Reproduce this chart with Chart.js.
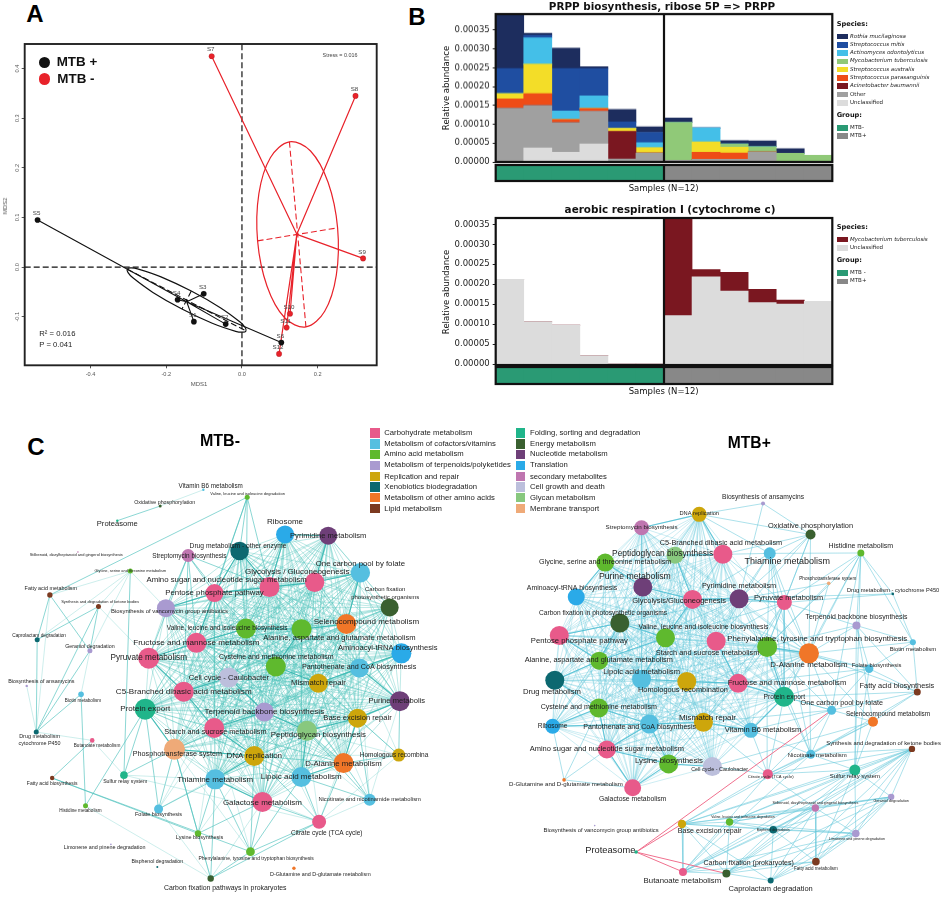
<!DOCTYPE html>
<html>
<head>
<meta charset="utf-8">
<title>MTB figure</title>
<script src="https://cdn.jsdelivr.net/npm/chart.js@4"></script>
<style>
  html, body { margin: 0; padding: 0; background: #fff; }
  #page { position: relative; width: 949px; height: 903px; overflow: hidden; font-family: "Liberation Sans", Arial, sans-serif; }
  #page canvas { position: absolute; }
  .t { position: absolute; white-space: nowrap; line-height: 1; }
</style>
</head>
<body>
<div id="page"></div>
<script>
// ---------- Panel A: NMDS ----------
const plusSamples = ["S1", "S2", "S3", "S4", "S5", "S6"];
const plusX = [-0.127, -0.043, -0.101, -0.17, -0.54, 0.104];
const plusY = [-0.11, -0.115, -0.054, -0.066, 0.095, -0.152];
const plusCentroid = [-0.146, -0.07];
const minusSamples = ["S7", "S8", "S9", "S10", "S11", "S12"];
const minusX = [-0.08, 0.3, 0.32, 0.127, 0.118, 0.098];
const minusY = [0.425, 0.345, 0.0175, -0.094, -0.122, -0.175];
const minusCentroid = [0.145, 0.066];
// outlines run a little past their start so the curve closes smoothly
const plusEllipseX = [-0.0166, 0.0021, 0.0106, 0.0085, -0.0042, -0.0571, -0.1339, -0.2139, -0.2758, -0.2945, -0.303, -0.3009, -0.2882, -0.2353, -0.1585, -0.0785, -0.0166, 0.0021, 0.0106, 0.0085];
const plusEllipseY = [-0.1295, -0.1313, -0.1287, -0.1219, -0.1113, -0.0819, -0.0484, -0.0197, -0.0035, -0.0017, -0.0043, -0.0111, -0.0217, -0.0511, -0.0846, -0.1133, -0.1295, -0.1313, -0.1287, -0.1219];
const minusEllipseX = [0.1128, 0.169, 0.2186, 0.2493, 0.2527, 0.2277, 0.1812, 0.1254, 0.0754, 0.0447, 0.0413, 0.0663, 0.1128, 0.169, 0.2186];
const minusEllipseY = [-0.1022, -0.1206, -0.089, -0.0161, 0.079, 0.1705, 0.234, 0.2524, 0.2208, 0.1479, 0.0528, -0.0387, -0.1022, -0.1206, -0.089];
const plusAxesX = [-0.303, 0.0106, NaN, -0.1339, -0.1585];
const plusAxesY = [-0.0043, -0.1287, NaN, -0.0484, -0.0846];
const minusAxesX = [0.1254, 0.169, NaN, 0.0413, 0.2527];
const minusAxesY = [0.2524, -0.1206, NaN, 0.0528, 0.079];
const mdsXTicks = [-0.4, -0.2, 0, 0.2];
const mdsYTicks = [-0.1, 0, 0.1, 0.2, 0.3, 0.4];

// ---------- Panel B: stacked abundance ----------
const sampleIds = ["S7", "S8", "S9", "S10", "S11", "S12", "S1", "S2", "S3", "S4", "S5", "S6"];
const sampleGroup = ["MTB-", "MTB-", "MTB-", "MTB-", "MTB-", "MTB-", "MTB+", "MTB+", "MTB+", "MTB+", "MTB+", "MTB+"];
const abundanceTicks = [0, 0.00005, 0.0001, 0.00015, 0.0002, 0.00025, 0.0003, 0.00035];
const rothia = [0.000142, 0.0000053, 0.000054, 0.000005, 0.0000328, 0.0000142, 0.0000115, 0, 0.000009, 0.000015, 0.0000124, 0];
const mitis = [0.0000664, 0.000007, 0.0001125, 0.0000727, 0.0000168, 0.0000275, 0, 0, 0, 0, 0, 0];
const odontolyticus = [0, 0.00007, 0.000023, 0.0000336, 0, 0.0000133, 0, 0.0000372, 0, 0, 0, 0];
const tuberculosisPrpp = [0, 0, 0, 0, 0, 0, 0.000101, 0, 0.0000088, 0.0000142, 0.000023, 0.0000177];
const australis = [0.000014, 0.000078, 0, 0, 0.000008, 0.000014, 0, 0.0000275, 0.000015, 0, 0, 0];
const parasanguinis = [0.000025, 0.0000316, 0.000008, 0.000007, 0, 0, 0, 0.0000187, 0.000017, 0, 0, 0];
const baumannii = [0, 0, 0, 0, 0.0000735, 0, 0, 0, 0, 0, 0, 0];
const otherPrpp = [0.0001426, 0.0001125, 0.0000788, 0.000087, 0.000008, 0.000024, 0.0000044, 0.000007, 0.000007, 0.0000266, 0, 0];
const unclassifiedPrpp = [0, 0.0000372, 0.0000257, 0.0000478, 0, 0, 0, 0, 0, 0, 0, 0];
const unclassifiedAero = [0.000212, 0.0001056, 0.0000973, 0.0000208, 0, 0, 0.0001214, 0.0002187, 0.000183, 0.000154, 0.00015, 0.000157];
const tuberculosisAero = [0, 0, 0, 0, 0, 0, 0.00025, 0.000018, 0.0000465, 0.000033, 0.00001, 0];

// ---------- Panel C: co-occurrence networks ----------
const pathwayGroups = ["Carbohydrate metabolism", "Metabolism of cofactors/vitamins", "Amino acid metabolism", "Metabolism of terpenoids/polyketides", "Replication and repair", "Xenobiotics biodegradation", "Metabolism of other amino acids", "Lipid metabolism", "Folding, sorting and degradation", "Energy metabolism", "Nucleotide metabolism", "Translation", "secondary metabolites", "Cell growth and death", "Glycan metabolism", "Membrane transport"];
const groupColors = ["#e85a8a", "#55bfe0", "#5fb92e", "#a99ad0", "#cda60c", "#0c6870", "#f07628", "#7c3a20", "#20b58a", "#3a6030", "#6e3f78", "#2aaae8", "#bf76b0", "#bcbfdc", "#88c87e", "#efaa78"];

const netMinusNames = ["Vitamin B6 metabolism", "Valine, leucine and isoleucine degradation", "Oxidative phosphorylation", "Proteasome", "Ribosome", "Pyrimidine metabolism", "Drug metabolism - other enzyme", "Streptomycin biosynthesis", "Stilbenoid, diarylheptanoid and gingerol biosynthesis", "One carbon pool by folate", "Glycolysis / Gluconeogenesis", "Amino sugar and nucleotide sugar metabolism", "Glycine, serine and threonine metabolism", "Fatty acid metabolism", "Synthesis and degradation of ketone bodies", "Pentose phosphate pathway", "Biosynthesis of vancomycin group antibiotics", "Carbon fixation\nphotosynthetic organisms", "Selenocompound metabolism", "Valine, leucine and isoleucine biosynthesis", "Alanine, aspartate and glutamate metabolism", "Caprolactam degradation", "Geraniol degradation", "Fructose and mannose metabolism", "Pyruvate metabolism", "Aminoacyl-tRNA biosynthesis", "Cysteine and methionine metabolism", "Pantothenate and CoA biosynthesis", "Biosynthesis of ansamycins", "Cell cycle - Caulobacter", "Mismatch repair", "C5-Branched dibasic acid metabolism", "Biotin metabolism", "Protein export", "Purine metabolis", "Terpenoid backbone biosynthesis", "Base excision repair", "Drug metabolism\ncytochrome P450", "Starch and sucrose metabolism", "Peptidoglycan biosynthesis", "Butanoate metabolism", "Phosphotransferase system", "DNA replication", "D-Alanine metabolism", "Homologous recombina", "Fatty acid biosynthesis", "Sulfur relay system", "Thiamine metabolism", "Lipoic acid metabolism", "Galactose metabolism", "Nicotinate and nicotinamide metabolism", "Histidine metabolism", "Folate biosynthesis", "Citrate cycle (TCA cycle)", "Lysine biosynthesis", "Limonene and pinene degradation", "Phenylalanine, tyrosine and tryptophan biosynthesis", "Bisphenol degradation", "D-Glutamine and D-glutamate metabolism", "Carbon fixation pathways in prokaryotes"];
const netMinusGroup = [1, 2, 9, 8, 11, 10, 5, 12, 12, 1, 0, 0, 2, 7, 7, 0, 3, 9, 6, 2, 2, 5, 3, 0, 0, 11, 2, 1, 3, 13, 4, 0, 1, 8, 10, 3, 4, 5, 0, 14, 0, 15, 4, 6, 4, 7, 8, 1, 1, 0, 1, 2, 1, 0, 2, 3, 2, 5, 6, 9];
const netMinusX = [202.3, 248.3, 157, 112, 288, 333.3, 240.3, 186.3, 70.7, 367, 319, 271.7, 125.7, 41.3, 92.3, 214, 163, 397.7, 352.3, 247, 305.3, 28, 83.3, 195, 145, 410, 278.3, 366, 17, 229, 323, 181.7, 74, 141.3, 408.3, 266.3, 364, 27, 213.7, 311, 85.7, 172, 255.7, 349.3, 407.3, 43.7, 119, 214.7, 305, 264.3, 376.7, 78.7, 155.3, 323.7, 196.7, 105.3, 251.7, 154, 297.3, 210];
const netMinusY = [482, 489.7, 499, 514.3, 528.7, 530, 546, 550.7, 547, 568.7, 578.7, 583.7, 567, 592, 604, 590, 605.7, 605, 622.3, 627, 627.7, 638.7, 650.3, 642, 658, 653, 666.7, 668.3, 687, 678.3, 684.3, 693, 695.7, 711.3, 703, 714.3, 720.7, 735.3, 731, 734, 744, 753.3, 760.3, 767.7, 759.3, 783.3, 780.3, 784.7, 782.3, 808.3, 806, 812.3, 815.7, 829, 841.3, 852.7, 860.3, 876.3, 877.7, 888.3];
const netMinusDegree = [1.2, 2.5, 1.5, 1.2, 9, 9, 9.3, 6.5, 0.8, 9.7, 9.7, 10, 2.5, 2.7, 2.5, 9, 9, 9, 10, 10, 10, 2.5, 2.5, 10, 10.5, 10, 10, 9.5, 1.2, 10, 9.5, 10, 2.8, 10.5, 10, 9.5, 9.5, 2.5, 10, 10, 2.3, 10.5, 10, 10, 6.5, 2.2, 3.8, 10, 10, 10, 6, 2.5, 4.5, 7, 3.2, 0.8, 4.4, 1, 1.7, 3.2];
const netMinusLabelX = [210, 248.7, 161.7, 112, 288, 333.3, 238.7, 187.7, 69, 367, 300.7, 226.7, 125.7, 42.3, 94, 214, 166.7, 393, 373.3, 227.3, 345, 30, 83.3, 195, 145, 395.7, 278.8, 365.7, 32.3, 229, 323, 181.7, 76, 141.3, 405.3, 266.3, 364, 30.5, 215, 323, 90.7, 175, 255.7, 349.3, 402.3, 43.7, 120.3, 214.7, 305, 264.3, 376.7, 73.3, 155.3, 331.7, 198.3, 98.7, 257.7, 154, 325, 225.3];
const netMinusLabelY = [478.3, 486.3, 495, 517.3, 515.3, 530.3, 541.3, 551.7, 550, 559, 567.7, 576.3, 567, 585, 599, 589.7, 609, 590.3, 620, 626.7, 636.7, 634, 645.7, 642, 657.3, 647.3, 656.7, 667.3, 682.3, 678.3, 683.7, 693, 702, 710.7, 703, 714, 720, 743.5, 734.7, 737.7, 749.3, 758.7, 760, 768, 759.3, 789, 787.3, 784.7, 782, 808.7, 806, 817.7, 821.3, 841, 845.3, 856.3, 867.3, 870.7, 884.7, 898];
const netMinusLabelSize = [6.3, 4, 5.3, 7.6, 8, 7.6, 6.7, 6.4, 4, 7.8, 8, 7.8, 3.9, 5.4, 4, 7.8, 5.9, 6, 8, 6.4, 7.6, 4.8, 5.3, 8.1, 8.2, 7.6, 7, 7.2, 5.4, 7.6, 7.7, 8.1, 4.6, 8, 7.6, 8.1, 7.6, 5.4, 7.3, 7.9, 4.7, 7.2, 8, 7.8, 6.5, 5, 5.2, 8, 8, 8, 5.8, 4.6, 5.5, 6.5, 5.5, 5.4, 5, 5.2, 5.4, 6.9];
// node indexes: the middle of the graph is read as a near complete mesh
const netMinusCore = [4, 5, 6, 9, 10, 11, 15, 16, 17, 18, 19, 20, 23, 24, 25, 26, 27, 29, 30, 31, 33, 34, 35, 36, 38, 39, 41, 42, 43, 47, 48, 49];
const netMinusStrong = [[16, 15], [15, 11], [11, 10], [10, 9], [15, 23], [23, 24], [31, 24], [33, 41], [41, 42], [42, 47], [47, 49], [48, 43], [43, 36], [36, 39], [30, 27], [27, 34], [20, 26], [19, 20], [18, 9], [25, 27], [34, 36], [39, 48], [35, 39], [31, 38], [38, 42], [26, 30], [20, 18], [5, 10], [4, 11], [6, 15], [6, 11], [4, 5], [19, 23], [29, 35], [29, 31], [35, 38]];
const netMinusEdges = [[3, 2], [1, 13], [45, 54], [45, 56], [13, 21], [14, 37], [59, 56], [53, 56], [1, 6], [1, 15], [1, 19], [1, 11], [1, 23], [7, 15], [7, 16], [7, 23], [7, 24], [7, 19], [7, 31], [7, 11], [12, 46], [13, 22], [14, 21], [14, 22], [21, 37], [22, 37], [32, 37], [32, 51], [40, 45], [33, 51], [46, 33], [46, 41], [52, 33], [52, 41], [52, 47], [54, 41], [54, 47], [54, 49], [56, 47], [56, 49], [56, 42], [56, 48], [59, 53], [59, 41], [59, 47], [53, 49], [53, 48], [53, 43], [53, 42], [50, 43], [50, 48], [50, 36], [50, 39], [44, 34], [44, 36], [44, 43]];
const netMinusFaint = [[2, 0], [12, 22], [12, 14], [12, 21], [13, 37], [22, 32], [46, 47], [46, 53], [52, 38], [52, 42], [52, 29], [54, 38], [54, 42], [56, 38], [56, 41], [59, 54], [59, 52], [59, 49], [53, 47], [53, 36], [53, 39], [53, 44], [53, 50], [53, 35], [50, 27], [50, 34], [50, 30], [50, 35], [44, 27], [44, 48], [44, 39], [44, 42], [44, 30], [51, 59], [37, 40], [28, 37], [40, 46], [12, 13], [24, 14], [16, 12]];

const netPlusNames = ["Biosynthesis of ansamycins", "DNA replication", "Streptomycin biosynthesis", "Oxidative phosphorylation", "C5-Branched dibasic acid metabolism", "Thiamine metabolism", "Histidine metabolism", "Peptidoglycan biosynthesis", "Glycine, serine and threonine metabolism", "Purine metabolism", "Phosphotransferase system", "Aminoacyl-tRNA biosynthesis", "Drug metabolism - cytochrome P450", "Pyrimidine metabolism", "Glycolysis/Gluconeogenesis", "Pyruvate metabolism", "Carbon fixation in photosynthetic organisms", "Terpenoid backbone biosynthesis", "Pentose phosphate pathway", "Valine, leucine and isoleucine biosynthesis", "Starch and sucrose metabolism", "Phenylalanine, tyrosine and tryptophan biosynthesis", "Biotin metabolism", "D-Alanine metabolism", "Alanine, aspartate and glutamate metabolism", "Folate biosynthesis", "Lipoic acid metabolism", "Homologous recombination", "Fructose and mannose metabolism", "Fatty acid biosynthesis", "Drug metabolism", "Protein export", "Cysteine and methionine metabolism", "One carbon pool by folate", "Selenocompound metabolism", "Mismatch repair", "Ribosome", "Pantothenate and CoA biosynthesis", "Vitamin B6 metabolism", "Amino sugar and nucleotide sugar metabolism", "Synthesis and degradation of ketone bodies", "Nicotinate metabolism", "Lysine biosynthesis", "Cell cycle - Caulobacter", "Citrate cycle (TCA cycle)", "Sulfur relay system", "D-Glutamine and D-glutamate metabolism", "Galactose metabolism", "Geraniol degradation", "Stilbenoid, diarylheptanoid and gingerol biosynthesis", "Valine, leucine and isoleucine degradation", "Base excision repair", "Bisphenol degradation", "Limonene and pinene degradation", "Biosynthesis of vancomycin group antibiotics", "Proteasome", "Carbon fixation (prokaryotes)", "Fatty acid metabolism", "Butanoate metabolism", "Caprolactam degradation"];
const netPlusGroup = [3, 4, 12, 9, 0, 1, 2, 14, 2, 10, 15, 11, 5, 10, 0, 0, 9, 3, 0, 2, 0, 2, 1, 6, 2, 1, 1, 4, 0, 7, 5, 8, 2, 1, 6, 4, 11, 1, 1, 0, 7, 1, 2, 13, 0, 8, 6, 0, 3, 12, 2, 4, 5, 3, 3, 8, 9, 7, 0, 5];
const netPlusX = [765, 698.3, 638, 814.7, 723, 772, 867.3, 673, 600, 639.3, 833.7, 569.7, 900.7, 740, 691.3, 787.3, 615.3, 862.7, 552, 663, 716, 769.3, 921.7, 813, 593.7, 876, 638, 685.3, 739, 926.3, 547.3, 787, 593.3, 836.7, 880, 702.7, 545, 646.3, 752.3, 601.7, 920.7, 815, 666.3, 712, 770, 861, 557, 628.7, 899, 819.7, 730, 680.3, 775.7, 862, 589, 632.3, 726.7, 820.3, 681.3, 773];
const netPlusY = [496.7, 508, 522, 529, 549.7, 548.7, 548.3, 550.7, 558.3, 583.7, 580, 594.3, 591, 596, 596.7, 600, 621.3, 624, 634.3, 636.7, 640.3, 646.3, 641.3, 653, 660.7, 669, 680, 682.3, 684.3, 693.3, 681, 698.3, 710, 712.3, 724.3, 725, 729, 726.7, 733.3, 753.3, 752.7, 758.3, 768.3, 771, 779, 774.7, 785, 793.3, 802.7, 814.3, 829, 831, 837, 841, 832.7, 860.3, 882.7, 870.3, 881, 890];
const netPlusDegree = [2, 7.5, 7.5, 5, 9.5, 6, 3.5, 8.5, 9, 9.5, 1.8, 8.5, 1.3, 9.5, 9.5, 7.5, 9.5, 4, 9.5, 9.5, 9.5, 10, 3, 10, 9, 4.2, 9.5, 9.5, 9.5, 3.5, 9.5, 10, 9.5, 4.5, 5, 9.5, 7.5, 9.5, 7.5, 9, 3.2, 4.5, 9.5, 9.5, 5, 5.5, 1.8, 8.5, 3.2, 3.7, 3.7, 4.2, 3.8, 3.8, 0.8, 1.8, 4, 3.8, 4, 3];
const netPlusLabelX = [765, 698.3, 638, 814.7, 721, 790.3, 867.3, 660, 600, 631, 832.7, 565.3, 901, 740, 677.3, 791.7, 597.7, 862.7, 573, 702.7, 707, 821.7, 921.7, 813, 593.3, 883.7, 638, 681.3, 790, 905, 544.3, 787.3, 593.3, 847.3, 895.7, 707, 545, 636, 765, 601.7, 891, 821.7, 666.7, 719.7, 773, 861, 559, 628.7, 899, 819.7, 744, 709.3, 775.7, 863.3, 595.7, 605.3, 750, 820.3, 680.7, 773];
const netPlusLabelY = [490.3, 507.3, 521.7, 519.7, 537.7, 557.3, 541, 548.7, 557.7, 573, 575.3, 585, 587.7, 583, 598.7, 595, 610.7, 614.7, 640, 625.7, 652.7, 638, 649.3, 665.3, 660.3, 665.7, 672.3, 691, 683.7, 687, 692.7, 698.7, 709.3, 705, 716.3, 720.3, 729, 729.7, 733.3, 752.7, 746.7, 759, 765.3, 774, 781.7, 781.7, 789.7, 805.3, 807, 809, 823.7, 838.7, 837, 846.7, 837.3, 859, 872, 877.7, 890, 898.3];
const netPlusLabelSize = [6.7, 5.7, 6.2, 7.4, 7.3, 9, 7, 8.4, 7.2, 8.7, 4.6, 6.9, 5.7, 7.4, 7.5, 7.4, 6.6, 6.9, 7.7, 6.9, 7.4, 7.8, 5.9, 7.9, 7.4, 5.8, 7.6, 7.4, 7.6, 7.4, 7.7, 6.7, 7.1, 7.2, 6.4, 8, 6.6, 7.1, 7.5, 7.5, 5.9, 6, 7.9, 5.4, 4.2, 5.9, 6.1, 6.8, 3.8, 3.7, 3.4, 7.1, 3.3, 3.7, 5.8, 9.3, 7, 4.5, 7.8, 7.5];
const netPlusCore = [1, 2, 4, 7, 8, 9, 11, 13, 14, 16, 18, 19, 20, 21, 23, 24, 26, 27, 28, 30, 31, 32, 35, 36, 37, 38, 39, 42, 43, 47];
const netPlusStrong = [[11, 8], [8, 9], [9, 14], [14, 13], [13, 15], [36, 32], [32, 37], [37, 35], [35, 38], [39, 32], [39, 47], [39, 37], [30, 24], [24, 16], [24, 19], [19, 14], [20, 28], [21, 23], [21, 31], [28, 31], [26, 27], [27, 28], [36, 37], [43, 42], [42, 47], [42, 39], [37, 42], [38, 31], [7, 4], [7, 14], [2, 1], [1, 4], [18, 16], [18, 24], [16, 19], [30, 32], [19, 26]];
const netPlusEdges = [[1, 3], [0, 1], [0, 13], [0, 3], [3, 5], [3, 15], [3, 23], [3, 21], [3, 4], [3, 20], [3, 13], [5, 6], [5, 4], [5, 15], [5, 13], [5, 21], [5, 23], [5, 14], [5, 20], [5, 1], [5, 31], [5, 41], [6, 21], [6, 23], [6, 15], [6, 17], [6, 12], [6, 22], [6, 33], [6, 31], [6, 45], [10, 13], [10, 23], [10, 21], [12, 15], [12, 14], [12, 22], [17, 15], [17, 23], [17, 21], [17, 25], [17, 22], [17, 29], [17, 34], [17, 45], [22, 29], [22, 23], [22, 25], [25, 23], [25, 31], [25, 21], [25, 29], [25, 33], [25, 28], [25, 45], [29, 31], [29, 33], [29, 34], [29, 23], [29, 41], [33, 31], [33, 41], [33, 44], [33, 35], [33, 21], [33, 23], [33, 38], [34, 44], [34, 31], [34, 41], [34, 45], [34, 43], [34, 23], [41, 44], [41, 31], [41, 21], [41, 23], [41, 38], [41, 45], [15, 13], [15, 14], [15, 21], [15, 23], [15, 20], [15, 28], [15, 31], [15, 19], [15, 4], [15, 35], [44, 38], [44, 31], [44, 43], [44, 21], [44, 35], [45, 51], [45, 50], [45, 40], [45, 56], [45, 49], [45, 48], [45, 53], [45, 58], [45, 44], [40, 50], [40, 51], [40, 49], [40, 53], [40, 58], [40, 57], [40, 56], [40, 59], [40, 48], [40, 44], [40, 41], [40, 52], [48, 49], [48, 52], [48, 53], [48, 57], [48, 56], [48, 59], [48, 50], [48, 51], [49, 52], [49, 50], [49, 51], [49, 53], [49, 57], [49, 56], [49, 58], [49, 59], [49, 44], [50, 51], [50, 52], [50, 53], [50, 56], [50, 58], [51, 52], [51, 58], [51, 56], [51, 53], [51, 59], [51, 44], [51, 41], [52, 53], [52, 56], [52, 58], [52, 57], [52, 59], [53, 57], [53, 56], [53, 58], [53, 59], [57, 56], [57, 59], [57, 58], [57, 45], [58, 56], [58, 41], [58, 44], [59, 56], [46, 36], [46, 32], [46, 39], [46, 47]];
const netPlusFaint = [];
const netPlusRed = [[55, 33], [55, 51], [55, 58], [55, 56]];

// ---------- helpers ----------
const page = document.getElementById("page");
const gap = { x: NaN, y: NaN };
const sansDejavu = '"DejaVu Sans", sans-serif';
const sansArial = '"Liberation Sans", Arial, sans-serif';

function text(str, x, y, opts) {
  opts = opts || {};
  const el = document.createElement("div");
  el.className = "t";
  el.textContent = str;
  el.style.left = x + "px";
  el.style.top = y + "px";
  el.style.fontSize = (opts.size || 8) + "px";
  el.style.fontFamily = opts.font || sansArial;
  el.style.color = opts.color || "#111";
  if (opts.weight) el.style.fontWeight = opts.weight;
  if (opts.italic) el.style.fontStyle = "italic";
  const ax = opts.left ? "0" : "-50%";
  el.style.transform = "translate(" + ax + ",-50%)" + (opts.rotate ? " rotate(-90deg)" : "");
  page.appendChild(el);
}

function swatch(x, y, w, h, color, round) {
  const el = document.createElement("div");
  el.style.cssText = "position:absolute;left:" + (x - w / 2) + "px;top:" + (y - h / 2) + "px;width:" + w + "px;height:" + h + "px;background:" + color + ";" + (round ? "border-radius:50%;" : "");
  page.appendChild(el);
}

function canvasAt(l, t, w, h) {
  const c = document.createElement("canvas");
  c.width = w;
  c.height = h;
  c.style.left = l + "px";
  c.style.top = t + "px";
  c.style.width = w + "px";
  c.style.height = h + "px";
  page.appendChild(c);
  return c.getContext("2d");
}

function points(xs, ys) {
  return xs.map((x, i) => (isNaN(x) ? gap : { x: x, y: ys[i] }));
}

function spokes(xs, ys, c) {
  const out = [];
  xs.forEach((x, i) => out.push({ x: c[0], y: c[1] }, { x: x, y: ys[i] }, gap));
  return out;
}

// axis with a fixed thickness (room), so the plot box stays where the padding puts it
function fixedScale(min, max, ticks, fmt, room, tickFont, tickColor) {
  return {
    type: "linear",
    min: min,
    max: max,
    afterFit: (s) => {
      if (s.isHorizontal()) s.height = room;
      else s.width = room;
    },
    afterBuildTicks: (s) => {
      s.ticks = ticks.map((v) => ({ value: v }));
    },
    grid: { drawOnChartArea: false, drawTicks: true, tickLength: 3, tickColor: tickColor },
    border: { display: false },
    ticks: { autoSkip: false, padding: 3, color: tickColor, font: tickFont, callback: fmt, maxRotation: 0 },
  };
}

const boxPlugin = {
  id: "box",
  afterDraw(chart, args, o) {
    const a = chart.chartArea;
    const c = chart.ctx;
    c.save();
    c.strokeStyle = o.color || "#111";
    c.lineWidth = o.width || 2;
    c.strokeRect(a.left, a.top, a.right - a.left, a.bottom - a.top);
    if (o.divider) {
      const px = chart.scales.x.getPixelForValue(5.5);
      c.beginPath();
      c.moveTo(px, a.top);
      c.lineTo(px, a.bottom);
      c.stroke();
    }
    c.restore();
  },
};

// ---------- panel A chart ----------
const mdsBox = { l: 24.7, t: 44, r: 376.7, b: 365.3 };
const mdsRange = { x0: -0.574, x1: 0.356, y0: -0.198, y1: 0.4496 };

const sampleLabels = {
  id: "sampleLabels",
  afterDatasetsDraw(chart) {
    const c = chart.ctx;
    const sx = chart.scales.x;
    const sy = chart.scales.y;
    c.save();
    c.fillStyle = "#444";
    c.font = "6.2px " + sansArial;
    c.textAlign = "center";
    c.textBaseline = "middle";
    plusSamples.forEach((s, i) => c.fillText(s, sx.getPixelForValue(plusX[i]) - 1, sy.getPixelForValue(plusY[i]) - 6.5));
    minusSamples.forEach((s, i) => c.fillText(s, sx.getPixelForValue(minusX[i]) - 1, sy.getPixelForValue(minusY[i]) - 6.5));
    // the y tick labels stand on their side
    c.fillStyle = "#555";
    c.font = "5.6px " + sansArial;
    mdsYTicks.forEach((v) => {
      c.save();
      c.translate(sx.left - 7.5, sy.getPixelForValue(v));
      c.rotate(-Math.PI / 2);
      c.fillText(v.toFixed(1), 0, 0);
      c.restore();
    });
    c.restore();
  },
};

function lineSet(data, color, width, extra) {
  return Object.assign({ data: data, showLine: true, borderColor: color, borderWidth: width, pointRadius: 0, fill: false }, extra || {});
}

// closed outline: first and last stretch only set the curve's tangents, they stay unpainted
function ellipseSet(xs, ys, color) {
  const last = xs.length - 1;
  return lineSet(points(xs, ys), color, 1.2, {
    tension: 0.35,
    order: 3,
    segment: {
      borderColor: (ctx) => (ctx.p0DataIndex === 0 || ctx.p1DataIndex === last ? "rgba(0,0,0,0)" : undefined),
    },
  });
}

const xAxisA = fixedScale(mdsRange.x0, mdsRange.x1, mdsXTicks, (v) => v.toFixed(1), 12, { size: 5.6, family: sansArial }, "#555");
const yAxisA = fixedScale(mdsRange.y0, mdsRange.y1, mdsYTicks, (v) => v.toFixed(1), 0, { size: 5.6, family: sansArial }, "#555");
yAxisA.ticks.display = false;

new Chart(canvasAt(0, 30, 400, 360), {
  type: "scatter",
  data: {
    datasets: [
      { data: points(plusX, plusY), backgroundColor: "#111", pointRadius: 2.8, order: 0 },
      { data: points(minusX, minusY), backgroundColor: "#e8222a", pointRadius: 2.8, order: 0 },
      lineSet(spokes(minusX, minusY, minusCentroid), "#e8222a", 1.2, { order: 1 }),
      lineSet(spokes(plusX, plusY, plusCentroid), "#111", 1.1, { order: 2 }),
      ellipseSet(minusEllipseX, minusEllipseY, "#e8222a"),
      ellipseSet(plusEllipseX, plusEllipseY, "#111"),
      lineSet(points(minusAxesX, minusAxesY), "#e8222a", 1.1, { borderDash: [6, 3], order: 3 }),
      lineSet(points(plusAxesX, plusAxesY), "#111", 1.1, { borderDash: [6, 3], order: 3 }),
      lineSet([{ x: 0, y: mdsRange.y0 }, { x: 0, y: mdsRange.y1 }], "#111", 1.2, { borderDash: [6, 3], order: 4 }),
      lineSet([{ x: mdsRange.x0, y: 0 }, { x: mdsRange.x1, y: 0 }], "#111", 1.2, { borderDash: [6, 3], order: 4 }),
    ],
  },
  options: {
    responsive: false,
    animation: false,
    events: [],
    layout: { padding: { left: mdsBox.l, top: mdsBox.t - 30, right: 400 - mdsBox.r, bottom: 390 - mdsBox.b - 12 } },
    scales: { x: xAxisA, y: yAxisA },
    plugins: { legend: { display: false }, tooltip: { enabled: false }, box: { color: "#222", width: 1.9 } },
  },
  plugins: [boxPlugin, sampleLabels],
});

text("A", 35, 14, { size: 24, weight: "bold", color: "#000" });
text("B", 417, 17, { size: 24, weight: "bold", color: "#000" });
text("C", 36, 447, { size: 24, weight: "bold", color: "#000" });
swatch(44.7, 62.3, 11.4, 11.4, "#111", true);
swatch(44.7, 79, 11.4, 11.4, "#e8222a", true);
text("MTB +", 56.7, 62, { left: true, size: 13.4, weight: "bold" });
text("MTB -", 57.3, 79, { left: true, size: 13.4, weight: "bold" });
text("Stress = 0.016", 340, 56.3, { size: 5.4, color: "#444" });
text("R² = 0.016", 39.3, 334, { left: true, size: 7.7, color: "#222" });
text("P = 0.041", 39.3, 344.7, { left: true, size: 7.7, color: "#222" });
text("MDS1", 199, 384, { size: 6, color: "#555" });
text("MDS2", 5.3, 206, { size: 6, color: "#555", rotate: true });

// ---------- panel B charts ----------
const barLeft = 495.7;
const barRight = 832.3;
const tickRoom = 45;
const species = [
  ["Unclassified", "#dcdcdc"],
  ["Other", "#a0a0a0"],
  ["Acinetobacter baumannii", "#7a1720"],
  ["Streptococcus parasanguinis", "#ee4c17"],
  ["Streptococcus australis", "#f3dd28"],
  ["Mycobacterium tuberculosis", "#90c978"],
  ["Actinomyces odontolyticus", "#44bfe8"],
  ["Streptococcus mitis", "#1f4ea1"],
  ["Rothia mucilaginosa", "#1d2d5e"],
];
const groupFill = { "MTB-": "#2a9a74", "MTB+": "#888888" };

function stackedChart(top, bottom, yMin, yMax, sets) {
  const canvasTop = top - 10;
  const canvasH = bottom - canvasTop + 10;
  const yAxis = fixedScale(yMin, yMax, abundanceTicks, (v) => v.toFixed(5), tickRoom, { size: 8.5, family: sansDejavu }, "#222");
  yAxis.stacked = true;
  new Chart(canvasAt(440, canvasTop, 400, canvasH), {
    type: "bar",
    data: {
      labels: sampleIds,
      datasets: sets.map((s) => ({ label: s[0], data: s[2], backgroundColor: s[1], barPercentage: 1, categoryPercentage: 1 })),
    },
    options: {
      responsive: false,
      animation: false,
      events: [],
      layout: { padding: { left: barLeft - 440 - tickRoom, top: 10, right: 840 - barRight, bottom: 10 } },
      scales: {
        x: { stacked: true, afterFit: (s) => { s.height = 0; }, grid: { display: false }, border: { display: false }, ticks: { display: false } },
        y: yAxis,
      },
      plugins: { legend: { display: false }, tooltip: { enabled: false }, box: { divider: true, width: 2.2 } },
    },
    plugins: [boxPlugin],
  });
}

function groupStrip(top, bottom) {
  new Chart(canvasAt(490, top - 4, 350, bottom - top + 8), {
    type: "bar",
    data: {
      labels: sampleIds,
      datasets: [{ data: sampleGroup.map(() => 1), backgroundColor: sampleGroup.map((g) => groupFill[g]), barPercentage: 1, categoryPercentage: 1 }],
    },
    options: {
      responsive: false,
      animation: false,
      events: [],
      layout: { padding: { left: barLeft - 490, top: 4, right: 840 - barRight, bottom: 4 } },
      scales: {
        x: { afterFit: (s) => { s.height = 0; }, grid: { display: false }, border: { display: false }, ticks: { display: false } },
        y: { min: 0, max: 1, afterFit: (s) => { s.width = 0; }, grid: { display: false }, border: { display: false }, ticks: { display: false } },
      },
      plugins: { legend: { display: false }, tooltip: { enabled: false }, box: { divider: true, width: 2.2 } },
    },
    plugins: [boxPlugin],
  });
}

stackedChart(14, 161.7, 0, 0.0003925, [
  [species[0][0], species[0][1], unclassifiedPrpp],
  [species[1][0], species[1][1], otherPrpp],
  [species[2][0], species[2][1], baumannii],
  [species[3][0], species[3][1], parasanguinis],
  [species[4][0], species[4][1], australis],
  [species[5][0], species[5][1], tuberculosisPrpp],
  [species[6][0], species[6][1], odontolyticus],
  [species[7][0], species[7][1], mitis],
  [species[8][0], species[8][1], rothia],
]);
groupStrip(164.7, 181);
stackedChart(217.7, 365.3, -0.0000025, 0.000366, [
  ["Unclassified", "#dcdcdc", unclassifiedAero],
  ["Mycobacterium tuberculosis", "#7a1720", tuberculosisAero],
]);
groupStrip(367.3, 384.3);

text("PRPP biosynthesis, ribose 5P => PRPP", 662, 5.5, { size: 10.4, weight: "bold", font: sansDejavu });
text("aerobic respiration I (cytochrome c)", 670, 208.7, { size: 10.4, weight: "bold", font: sansDejavu });
text("Relative abundance", 445.7, 88, { size: 8.5, font: sansDejavu, rotate: true });
text("Relative abundance", 445.7, 291.7, { size: 8.5, font: sansDejavu, rotate: true });
text("Samples (N=12)", 663.7, 187.7, { size: 8.5, font: sansDejavu });
text("Samples (N=12)", 663.7, 390.7, { size: 8.5, font: sansDejavu });

const legendSwatchX = 842.2;
const legendTextX = 850;
function legendRow(label, color, y, italic) {
  swatch(legendSwatchX, y, 11, 5.5, color);
  text(label, legendTextX, y, { left: true, size: 5.5, font: sansDejavu, italic: italic, color: "#222" });
}
text("Species:", 836.7, 24.3, { left: true, size: 6.6, weight: "bold", font: sansDejavu });
[8, 7, 6, 5, 4, 3, 2].forEach((k, i) => legendRow(species[k][0], species[k][1], 36.7 + i * 8.25, true));
legendRow("Other", species[1][1], 94.7);
legendRow("Unclassified", species[0][1], 103);
text("Group:", 836.7, 115.3, { left: true, size: 6.6, weight: "bold", font: sansDejavu });
legendRow("MTB-", groupFill["MTB-"], 128);
legendRow("MTB+", groupFill["MTB+"], 136);

text("Species:", 836.7, 227.3, { left: true, size: 6.6, weight: "bold", font: sansDejavu });
legendRow("Mycobacterium tuberculosis", "#7a1720", 239.7, true);
legendRow("Unclassified", "#dcdcdc", 248);
text("Group:", 836.7, 260.3, { left: true, size: 6.6, weight: "bold", font: sansDejavu });
legendRow("MTB -", groupFill["MTB-"], 273);
legendRow("MTB+", groupFill["MTB+"], 281.3);

// ---------- panel C charts ----------
function edgePath(pairs, xs, ys) {
  const out = [];
  pairs.forEach((p) => out.push({ x: xs[p[0]], y: ys[p[0]] }, { x: xs[p[1]], y: ys[p[1]] }, gap));
  return out;
}

function meshPairs(core) {
  const pairs = [];
  core.forEach((a, i) => core.slice(i + 1).forEach((b) => pairs.push([a, b])));
  return pairs;
}

function networkChart(left, width, net) {
  const nodeLabels = {
    id: "nodeLabels",
    afterDatasetsDraw(chart) {
      const c = chart.ctx;
      c.save();
      c.fillStyle = "#1c1c1c";
      c.textAlign = "center";
      c.textBaseline = "middle";
      net.names.forEach((name, i) => {
        const px = chart.scales.x.getPixelForValue(net.labelX[i]);
        const py = chart.scales.y.getPixelForValue(net.labelY[i]);
        c.font = net.labelSize[i] + "px " + sansArial;
        const lines = name.split("\n");
        lines.forEach((line, k) => c.fillText(line, px, py + (k - (lines.length - 1) / 2) * net.labelSize[i] * 1.25));
      });
      c.restore();
    },
  };
  const sets = [
    {
      data: points(net.x, net.y),
      pointRadius: net.degree,
      pointBackgroundColor: net.group.map((g) => groupColors[g]),
      pointBorderWidth: 0,
      order: 0,
    },
    lineSet(edgePath(net.faint, net.x, net.y), net.faintColor, 0.8, { order: 5 }),
    lineSet(edgePath(meshPairs(net.core), net.x, net.y), net.meshColor, 0.6, { order: 4 }),
    lineSet(edgePath(net.edges, net.x, net.y), net.edgeColor, 0.9, { order: 3 }),
    lineSet(edgePath(net.strong, net.x, net.y), net.strongColor, 1.1, { order: 2 }),
  ];
  if (net.red) sets.push(lineSet(edgePath(net.red, net.x, net.y), "#f0708e", 1, { order: 1 }));
  new Chart(canvasAt(left, 420, width, 483), {
    type: "scatter",
    data: { datasets: sets },
    options: {
      responsive: false,
      animation: false,
      events: [],
      layout: { padding: 0 },
      scales: {
        x: { type: "linear", display: false, min: left, max: left + width },
        y: { type: "linear", display: false, min: 420, max: 903, reverse: true },
      },
      plugins: { legend: { display: false }, tooltip: { enabled: false } },
    },
    plugins: [nodeLabels],
  });
}

networkChart(0, 450, {
  names: netMinusNames, group: netMinusGroup, x: netMinusX, y: netMinusY, degree: netMinusDegree,
  labelX: netMinusLabelX, labelY: netMinusLabelY, labelSize: netMinusLabelSize,
  core: netMinusCore, edges: netMinusEdges, strong: netMinusStrong, faint: netMinusFaint,
  meshColor: "rgba(72,192,186,0.6)", edgeColor: "rgba(72,192,186,0.7)", strongColor: "rgba(52,182,176,0.85)", faintColor: "rgba(72,192,186,0.35)",
});
networkChart(490, 459, {
  names: netPlusNames, group: netPlusGroup, x: netPlusX, y: netPlusY, degree: netPlusDegree,
  labelX: netPlusLabelX, labelY: netPlusLabelY, labelSize: netPlusLabelSize,
  core: netPlusCore, edges: netPlusEdges, strong: netPlusStrong, faint: netPlusFaint, red: netPlusRed,
  meshColor: "rgba(100,200,218,0.55)", edgeColor: "rgba(100,200,218,0.6)", strongColor: "rgba(80,192,212,0.85)", faintColor: "rgba(100,200,218,0.3)",
});

text("MTB-", 220, 441, { size: 16, weight: "bold", color: "#000" });
text("MTB+", 749.3, 443.3, { size: 15.6, weight: "bold", color: "#000" });

const legendRowsY = [433, 444, 454.3, 465.3, 476.7, 487, 497.7, 508.7];
pathwayGroups.forEach((g, i) => {
  const right = i >= 8;
  const y = legendRowsY[i % 8];
  swatch(right ? 520.7 : 375, y, 9.5, 9.5, groupColors[i]);
  text(g, right ? 530 : 384.3, y, { left: true, size: 7.7, color: "#222" });
});
</script>
</body>
</html>
